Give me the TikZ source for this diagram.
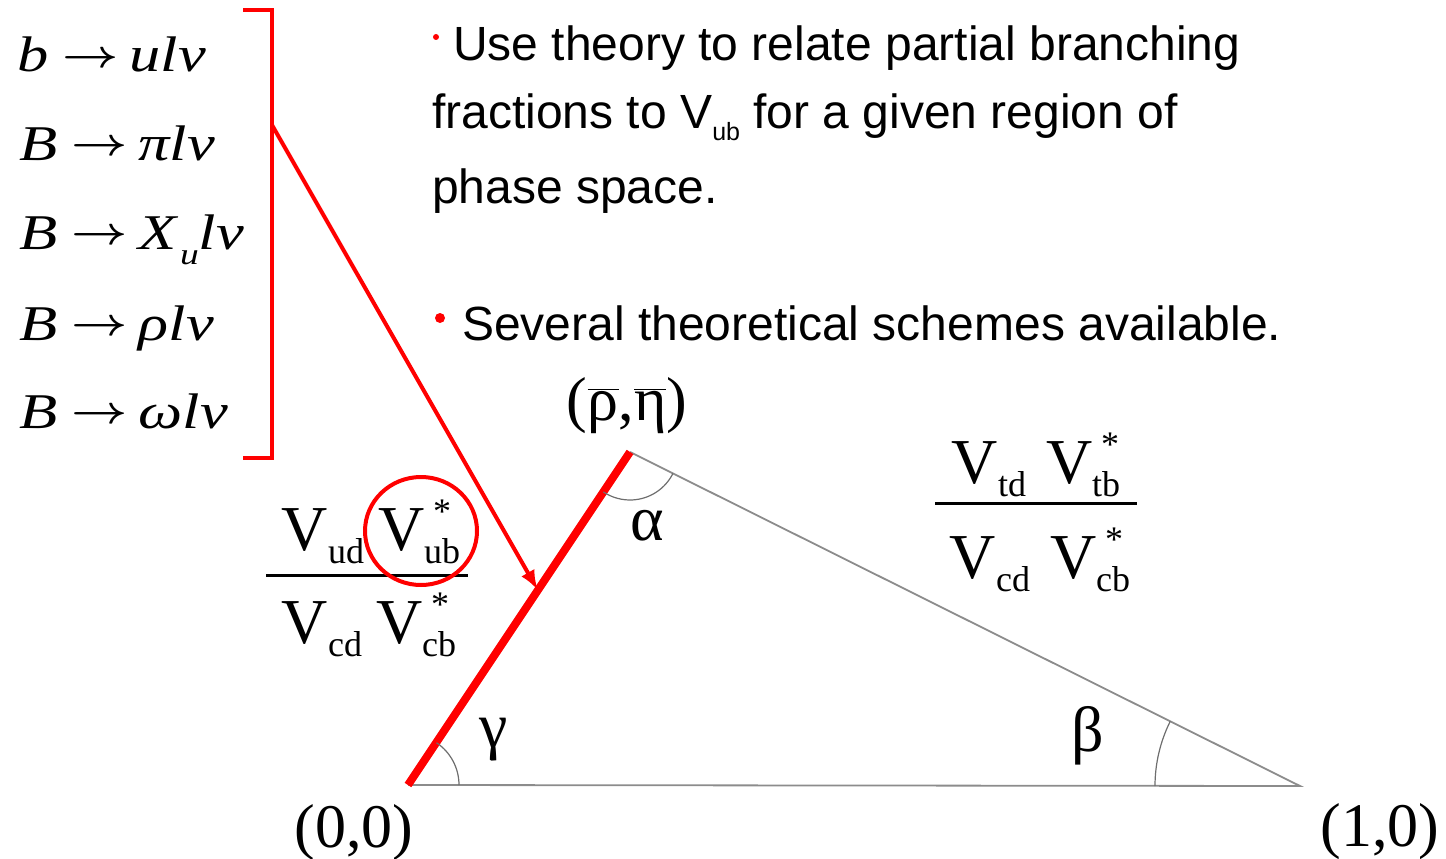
\documentclass[tikz,border=0pt]{standalone}
\usepackage{fontspec}
\setmainfont{Liberation Serif}
\newfontfamily\sansf{Liberation Sans}
\usetikzlibrary{arrows.meta,calc}
\newcommand\fs[1]{\fontsize{#1pt}{#1pt}\selectfont}
\newcommand\Vsub[1]{V\raisebox{-13pt}{\fs{36}#1}}
\newcommand\Vst[1]{V\rlap{\hspace{9pt}\raisebox{27pt}{\fs{36}*}}\raisebox{-13pt}{\fs{36}#1}}
\newcommand\mrow[1]{\scalebox{1.25}[1]{\fs{50}#1}}
\newcommand\rarr{\hspace{11pt}\raisebox{5pt}{\resizebox{45pt}{!}{\boldmath$\rightarrow$}}\hspace{9pt}}
\definecolor{tri}{RGB}{140,140,140}
\definecolor{arcc}{RGB}{110,110,110}
\tikzset{
  redline/.style={draw=red, line width=4pt},
  triline/.style={draw=tri, line width=1.8pt},
  anglearc/.style={draw=arcc, line width=1.2pt},
  mathrow/.style={anchor=base west, inner sep=0pt},
  lbl/.style={anchor=base, inner sep=0pt},
  bul/.style={anchor=base west, inner sep=0pt, font=\sansf\fs{48}},
  fracbar/.style={draw=black, line width=3pt}
}
\begin{document}
\begin{tikzpicture}[x=1pt,y=-1pt]
\useasboundingbox (0,0) rectangle (1446,859);
% left list
\node[mathrow] (r1) at (17,72) {\mrow{\textit{b}\rarr\textit{ulν}}};
\node[mathrow] (r2) at (19,160) {\mrow{\textit{B}\rarr\textit{πlν}}};
\node[mathrow] (r3) at (19,249) {\mrow{\textit{B}\rarr\textit{X}\hspace{1pt}\raisebox{-15pt}{\fs{30}\textit{u}}\textit{lν}}};
\node[mathrow] (r4) at (19,340) {\mrow{\textit{B}\rarr\textit{ρlν}}};
\node[mathrow] (r5) at (19,428) {\mrow{\textit{B}\rarr\textit{ωlν}}};
% bracket
\draw[redline] (243,10) -- (272,10) -- (272,458) -- (243,458);
\coordinate (brk) at (272,125);
% triangle
\coordinate (O) at (408,785);
\coordinate (A) at (630,452);
\coordinate (R) at (1300,786);
\draw[triline] (O) -- (R) -- (A);
\draw[draw=red, line width=8pt] (O) -- (A);
\coordinate (tip) at ($(O)!0.585!(A)$);
% arrow
\draw[redline, -{Latex[length=20pt,width=15pt]}] (brk) -- (tip);
% angle arcs
\draw[anglearc] ($(O)+(51,0)$) arc[start angle=0, end angle=-56, radius=51];
\draw[anglearc] ($(A)+(26.5:48)$) arc[start angle=26.5, end angle=123.7, radius=48];
\draw[anglearc] ($(R)+(180:145)$) arc[start angle=180, end angle=206.5, radius=145];
% labels
\node[lbl] (o) at (354,847) {\fs{62}(0,0)};
\node[lbl] (one) at (1380,846) {\fs{62}(1,0)};
\node[lbl] (apex) at (627,420) {\fs{62}($\overline{\mbox{ρ}}$,$\overline{\mbox{η}}$)};
\node[lbl] (al) at (647,540) {\fs{64}α};
\node[lbl] (ga) at (494,747) {\fs{64}γ};
\node[lbl] (be) at (1088,751) {\fs{64}β};
% left fraction
\node[lbl] (n1) at (371,550) {\fs{64}\Vsub{ud}\hspace{14pt}\Vst{ub}};
\node[lbl] (d1) at (369,643) {\fs{64}\Vsub{cd}\hspace{14pt}\Vst{cb}};
\draw[fracbar] (266,575) -- (468,575);
\draw[redline] (421,531) ellipse [x radius=56, y radius=54];
% right fraction
\node[lbl] (n2) at (1036,483) {\fs{64}\Vsub{td}\hspace{20pt}\Vst{tb}};
\node[lbl] (d2) at (1040,578) {\fs{64}\Vsub{cd}\hspace{20pt}\Vst{cb}};
\draw[fracbar] (935,503) -- (1137,503);
% bullets
\fill[red] (436,37) circle (3);
\node[bul] (t1) at (453,60) {Use theory to relate partial branching};
\node[bul] (t2) at (432,128) {fractions to V\raisebox{-13pt}{\fs{25}ub} for a given region of};
\node[bul] (t3) at (432,203) {phase space.};
\fill[red] (440,318) circle (5);
\node[bul] (t4) at (462,340) {Several theoretical schemes available.};
\end{tikzpicture}
\end{document}
